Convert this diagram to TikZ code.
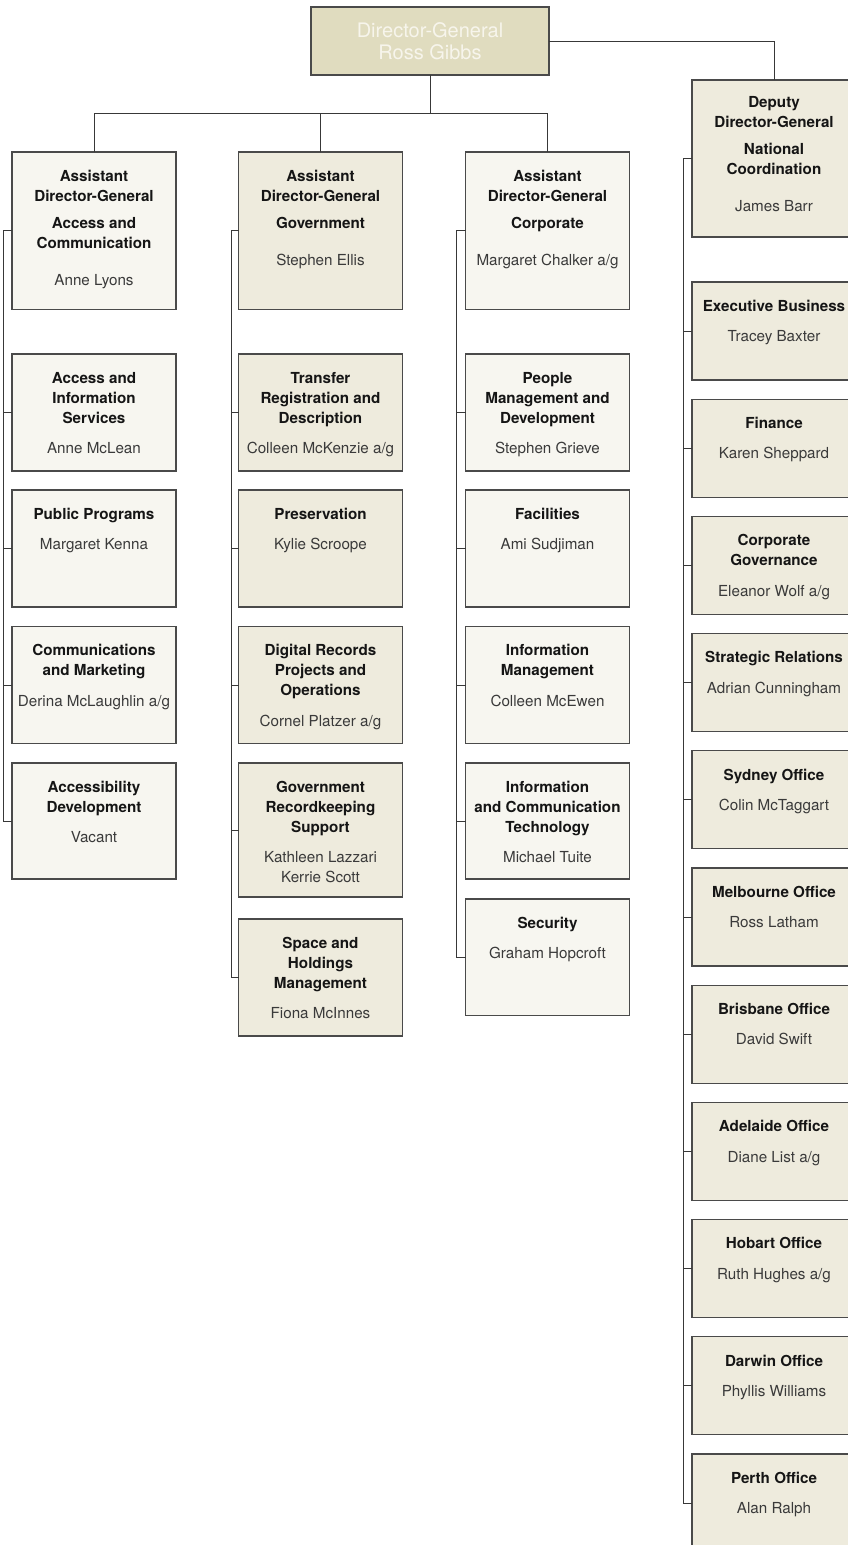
\documentclass[tikz,border=0pt]{standalone}
\usepackage{fontspec}
\setmainfont{TeX Gyre Heros}
\definecolor{dgF}{HTML}{E0DCBF}
\definecolor{dgT}{HTML}{F7F5EC}
\definecolor{liteF}{HTML}{F7F6F0}
\definecolor{darkF}{HTML}{EEEBDD}
\definecolor{boxc}{HTML}{4A4A4A}
\definecolor{linec}{HTML}{383838}
\definecolor{titlec}{HTML}{151515}
\definecolor{namec}{HTML}{3A3A3A}
\newcommand{\nm}{\mdseries\color{namec}}
\newcommand{\obox}[6]{%
  \node[#2, minimum height=#5pt] (#1) at (#3,#4) {};
  \node[txt] (#1t) at ([yshift=-17pt]#1.north) {\rule{0pt}{12pt}#6};}
\tikzset{
  box/.style={draw=boxc, line width=1.1pt, minimum width=164pt, anchor=north west, inner sep=0pt, outer sep=0pt},
  lite/.style={box, fill=liteF},
  dark/.style={box, fill=darkF},
  txt/.style={anchor=north, align=center, inner sep=0pt, text=titlec, font=\fontsize{15.2}{20}\selectfont\bfseries},
  conn/.style={draw=linec, line width=1pt}
}
\begin{document}
\begin{tikzpicture}[x=1pt,y=-1pt]
\useasboundingbox (0,0) rectangle (848,1545);
\fill[white] (0,0) rectangle (848,1545);
\clip (0,0) rectangle (848,1545);
% Director-General
\node[draw=boxc, line width=1.1pt, fill=dgF, minimum width=238pt, minimum height=68pt, anchor=north west, inner sep=0pt, outer sep=0pt, align=center, text=dgT, font=\fontsize{20}{21.5}\selectfont] (dg) at (311,7) {Director-General\\Ross Gibbs};
% column 1
\obox{c1}{lite}{12}{152}{157.5}{Assistant\\Director-General\\[7pt]Access and\\Communication\\[17pt]\nm Anne Lyons}
\obox{c1a}{lite}{12}{354}{117}{Access and\\Information\\Services\\[10.5pt]\nm Anne McLean}
\obox{c1b}{lite}{12}{490}{117}{Public Programs\\[10.5pt]\nm Margaret Kenna}
\obox{c1c}{lite}{12}{626.5}{117}{Communications\\and Marketing\\[10.5pt]\nm Derina McLaughlin a/g}
\obox{c1d}{lite}{12}{763}{116}{Accessibility\\Development\\[10.5pt]\nm Vacant}
% column 2
\obox{c2}{dark}{238.5}{152}{157.5}{Assistant\\Director-General\\[7pt]Government\\[17pt]\nm Stephen Ellis}
\obox{c2a}{dark}{238.5}{354}{117}{Transfer\\Registration and\\Description\\[10.5pt]\nm Colleen McKenzie a/g}
\obox{c2b}{dark}{238.5}{490}{117}{Preservation\\[10.5pt]\nm Kylie Scroope}
\obox{c2c}{dark}{238.5}{626.5}{117}{Digital Records\\Projects and\\Operations\\[10.5pt]\nm Cornel Platzer a/g}
\obox{c2d}{dark}{238.5}{763}{134}{Government\\Recordkeeping\\Support\\[10.5pt]\nm Kathleen Lazzari\\\nm Kerrie Scott}
\obox{c2e}{dark}{238.5}{919}{117}{Space and\\Holdings\\Management\\[10.5pt]\nm Fiona McInnes}
% column 3
\obox{c3}{lite}{465.5}{152}{157.5}{Assistant\\Director-General\\[7pt]Corporate\\[17pt]\nm Margaret Chalker a/g}
\obox{c3a}{lite}{465.5}{354}{117}{People\\Management and\\Development\\[10.5pt]\nm Stephen Grieve}
\obox{c3b}{lite}{465.5}{490}{117}{Facilities\\[10.5pt]\nm Ami Sudjiman}
\obox{c3c}{lite}{465.5}{626.5}{117}{Information\\Management\\[10.5pt]\nm Colleen McEwen}
\obox{c3d}{lite}{465.5}{763}{116}{Information\\and Communication\\Technology\\[10.5pt]\nm Michael Tuite}
\obox{c3e}{lite}{465.5}{899}{116.5}{Security\\[10.5pt]\nm Graham Hopcroft}
% column 4
\node[dark, minimum height=157pt] (c4) at (692,80) {};
\node[txt] (c4t) at ([yshift=-15pt]c4.north) {\rule{0pt}{12pt}Deputy\\Director-General\\[7pt]National\\Coordination\\[17pt]\nm James Barr};
\obox{c4a}{dark}{692}{282}{98}{Executive Business\\[10.5pt]\nm Tracey Baxter}
\obox{c4b}{dark}{692}{399.2}{98}{Finance\\[10.5pt]\nm Karen Sheppard}
\obox{c4c}{dark}{692}{516.4}{98}{Corporate\\Governance\\[10.5pt]\nm Eleanor Wolf a/g}
\obox{c4d}{dark}{692}{633.6}{98}{Strategic Relations\\[10.5pt]\nm Adrian Cunningham}
\obox{c4e}{dark}{692}{750.8}{98}{Sydney Office\\[10.5pt]\nm Colin McTaggart}
\obox{c4f}{dark}{692}{868}{98}{Melbourne Office\\[10.5pt]\nm Ross Latham}
\obox{c4g}{dark}{692}{985.2}{98}{Brisbane Office\\[10.5pt]\nm David Swift}
\obox{c4h}{dark}{692}{1102.4}{98}{Adelaide Office\\[10.5pt]\nm Diane List a/g}
\obox{c4i}{dark}{692}{1219.6}{98}{Hobart Office\\[10.5pt]\nm Ruth Hughes a/g}
\obox{c4j}{dark}{692}{1336.8}{98}{Darwin Office\\[10.5pt]\nm Phyllis Williams}
\obox{c4k}{dark}{692}{1454}{98}{Perth Office\\[10.5pt]\nm Alan Ralph}
% top connectors
\coordinate (bar) at (0,113);
\draw[conn] (dg.south) -- (dg.south |- bar);
\draw[conn] (c1.north) -- (c1.north |- bar) -- (c3.north |- bar) -- (c3.north);
\draw[conn] (c2.north) -- (c2.north |- bar);
\draw[conn] (dg.east) -| (c4.north);
% brackets
\coordinate (b1) at (3,0);
\coordinate (b2) at (231.5,0);
\coordinate (b3) at (456,0);
\coordinate (b4) at (683,0);
\draw[conn] (c1.west) -- (c1.west -| b1) -- (c1d.west -| b1) -- (c1d.west);
\foreach \n in {c1a,c1b,c1c} \draw[conn] (\n.west) -- (\n.west -| b1);
\draw[conn] (c2.west) -- (c2.west -| b2) -- (c2e.west -| b2) -- (c2e.west);
\foreach \n in {c2a,c2b,c2c,c2d} \draw[conn] (\n.west) -- (\n.west -| b2);
\draw[conn] (c3.west) -- (c3.west -| b3) -- (c3e.west -| b3) -- (c3e.west);
\foreach \n in {c3a,c3b,c3c,c3d} \draw[conn] (\n.west) -- (\n.west -| b3);
\draw[conn] (c4.west) -- (c4.west -| b4) -- (c4k.west -| b4) -- (c4k.west);
\foreach \n in {c4a,c4b,c4c,c4d,c4e,c4f,c4g,c4h,c4i,c4j} \draw[conn] (\n.west) -- (\n.west -| b4);
\end{tikzpicture}
\end{document}
